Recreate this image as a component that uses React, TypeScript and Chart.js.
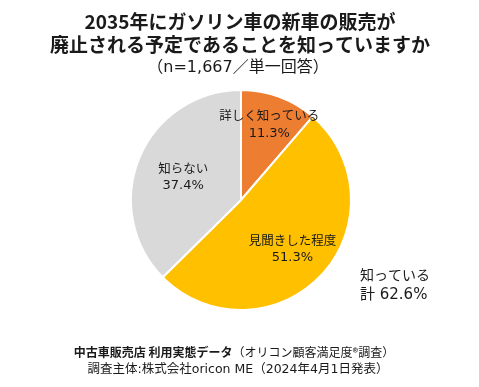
import React, { useEffect, useRef } from "react";
import { Chart, registerables } from "chart.js";

Chart.register(...registerables);

const categories = ["詳しく知っている", "見聞きした程度", "知らない"];
const values = [11.3, 51.3, 37.4];
const colors = ["#ED7D31", "#FFC000", "#D9D9D9"];
const titleLines = ["2035年にガソリン車の新車の販売が", "廃止される予定であることを知っていますか"];
const subtitle = "（n=1,667／単一回答）";
const totalLabel = "知っている";
const totalPrefix = "計 ";
const footerBold = "中古車販売店 利用実態データ";
const footerNormal = "（オリコン顧客満足度®調査）";
const footerLine2 = "調査主体:株式会社oricon ME（2024年4月1日発表）";

const FONT = '"Noto Sans CJK JP", "Noto Sans", sans-serif';
const WIDE = '"DejaVu Sans", "Noto Sans CJK JP", sans-serif';
const labelRadiusFrac = [0.74, 0.64, 0.57];

const textPlugin = {
  id: "texts",
  afterDraw(chart: any) {
    const ctx = chart.ctx as CanvasRenderingContext2D;
    ctx.save();
    ctx.fillStyle = "#1a1a1a";
    ctx.textAlign = "center";
    ctx.textBaseline = "middle";
    ctx.font = `bold 19px ${FONT}`;
    ctx.fillText(titleLines[0], 240, 22);
    ctx.fillText(titleLines[1], 240, 45);
    ctx.font = `16px ${WIDE}`;
    ctx.fillText(subtitle, 238, 68);

    // slice labels
    const meta = chart.getDatasetMeta(0);
    meta.data.forEach((arc: any, i: number) => {
      const p = arc.getProps(["x", "y", "startAngle", "endAngle", "outerRadius"], true);
      const mid = (p.startAngle + p.endAngle) / 2;
      const r = p.outerRadius * labelRadiusFrac[i];
      const x = p.x + Math.cos(mid) * r;
      const y = p.y + Math.sin(mid) * r;
      ctx.fillStyle = "#1a1a1a";
      ctx.font = `12.5px ${FONT}`;
      ctx.fillText(categories[i], x, y - 8);
      ctx.font = `13px ${WIDE}`;
      ctx.fillText(values[i].toFixed(1) + "%", x, y + 10);
    });

    // total annotation
    const total = values[0] + values[1];
    ctx.textAlign = "left";
    ctx.font = `14px ${FONT}`;
    ctx.fillText(totalLabel, 360, 275);
    ctx.font = `15px ${WIDE}`;
    ctx.fillText(totalPrefix + total.toFixed(1) + "%", 360, 295);

    // footer
    ctx.font = `bold 12px ${FONT}`;
    const wb = ctx.measureText(footerBold).width;
    ctx.font = `12px ${FONT}`;
    const wn = ctx.measureText(footerNormal).width;
    const fx = 234 - (wb + wn) / 2;
    ctx.font = `bold 12px ${FONT}`;
    ctx.fillText(footerBold, fx, 352);
    ctx.font = `12px ${FONT}`;
    ctx.fillText(footerNormal, fx + wb, 352);
    ctx.textAlign = "center";
    ctx.font = `12.5px ${WIDE}`;
    ctx.fillText(footerLine2, 238, 370);
    ctx.restore();
  },
};

export default function App() {
  const ref = useRef<HTMLCanvasElement>(null);
  useEffect(() => {
    document.body.style.margin = "0";
    const chart = new Chart(ref.current!, {
      type: "pie",
      data: {
        labels: categories,
        datasets: [
          {
            data: values,
            backgroundColor: colors,
            borderColor: "#ffffff",
            borderWidth: 2,
          },
        ],
      },
      options: {
        responsive: false,
        animation: false,
        layout: { padding: { left: 130, right: 127, top: 89, bottom: 76 } },
        plugins: { legend: { display: false }, tooltip: { enabled: false } },
      },
      plugins: [textPlugin],
    });
    return () => chart.destroy();
  }, []);
  return (
    <div style={{ position: "absolute", left: 0, top: 0, width: 479, height: 387, background: "#fff" }}>
      <canvas ref={ref} width={479} height={387} style={{ display: "block" }} />
    </div>
  );
}
